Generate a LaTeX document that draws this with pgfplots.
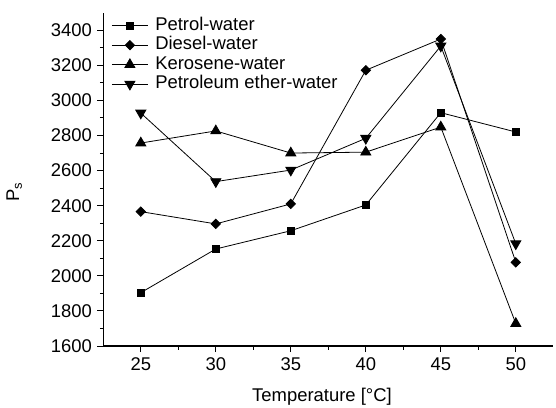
\documentclass[border=0pt]{standalone}
\usepackage{fontspec}
\setmainfont{Liberation Sans}
\usepackage{pgfplots}
\pgfplotsset{compat=1.18}
\begin{document}
\begin{tikzpicture}
\begin{axis}[
  scale only axis,
  width=450bp, height=333.3bp,
  xmin=22.5, xmax=52.5,
  ymin=1600, ymax=3500,
  axis lines*=left,
  axis line style={line width=1.1bp, -},
  xtick={25,30,35,40,45,50},
  ytick={1600,1800,2000,2200,2400,2600,2800,3000,3200,3400},
  minor x tick num=1,
  minor y tick num=1,
  tick align=outside,
  tick pos=left,
  major tick length=6bp,
  minor tick length=3.5bp,
  every tick/.style={black, line width=1bp},
  /pgf/number format/assume math mode=true,
  /pgf/number format/1000 sep={},
  tick label style={font=\fontsize{18.5}{21}\selectfont},
  xticklabel style={yshift=-2bp},
  yticklabel style={xshift=-2bp},
  label style={font=\fontsize{18.5}{21}\selectfont},
  xlabel={Temperature [°C]},
  ylabel={P\textsubscript{s}},
  xlabel style={at={(axis description cs:0.486,-0.152)}, anchor=center},
  ylabel style={at={(axis description cs:-0.198,0.462)}, anchor=center, rotate=0},
  legend cell align=left,
  legend style={draw=none, fill=none, at={(0,1)}, anchor=north west,
    xshift=8bp, yshift=-3bp, inner sep=0pt, row sep=0pt, column sep=6bp,
    font=\fontsize{18.5}{21}\selectfont,
    nodes={inner sep=1bp, text height=13.5bp, text depth=4bp}},
  legend image code/.code={
    \draw[#1, mark repeat=2, mark phase=2] plot coordinates {(0bp,0bp) (18bp,0bp) (36bp,0bp)};
  },
  every axis plot/.append style={black, line width=0.8bp},
]
\addplot[mark=square*, mark size=3.3bp, mark options={solid}] coordinates {
  (25,1904) (30,2153) (35,2257) (40,2404) (45,2930) (50,2820)
};
\addlegendentry{Petrol-water}
\addplot[mark=square*, mark size=3.3bp, mark options={solid, rotate=45}] coordinates {
  (25,2366) (30,2296) (35,2410) (40,3172) (45,3350) (50,2077)
};
\addlegendentry{Diesel-water}
\addplot[mark=triangle*, mark size=5.8bp, mark options={solid}] coordinates {
  (25,2757) (30,2826) (35,2700) (40,2705) (45,2848) (50,1728)
};
\addlegendentry{Kerosene-water}
\addplot[mark=triangle*, mark size=5.8bp, mark options={solid, rotate=180}] coordinates {
  (25,2928) (30,2537) (35,2603) (40,2784) (45,3310) (50,2183)
};
\addlegendentry{Petroleum ether-water}
\end{axis}
\pgfresetboundingbox
\path (-103.3bp,-62bp) rectangle (452.7bp,346bp);
\end{tikzpicture}
\end{document}
